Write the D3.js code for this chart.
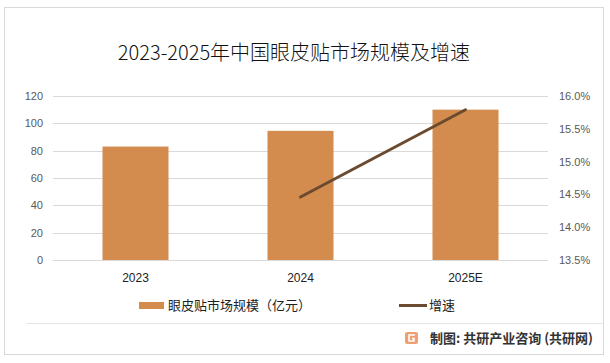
<!DOCTYPE html>
<html>
<head>
<meta charset="utf-8">
<script src="https://cdn.jsdelivr.net/npm/d3@7"></script>
<style>
  body { margin: 0; background: #fff; }
</style>
</head>
<body>
<div id="chart"></div>
<script>
// chart data
const categories = ["2023", "2024", "2025E"];
const marketSize = [83, 94.5, 110];          // 眼皮贴市场规模（亿元）
const growthCats = ["2024", "2025E"];
const growthRate = [14.46, 15.79];           // 增速 (%)
const leftTicks = [0, 20, 40, 60, 80, 100, 120];
const rightTicks = [13.5, 14.0, 14.5, 15.0, 15.5, 16.0];

const width = 610, height = 363;
const margin = { top: 96, right: 62, bottom: 103, left: 53 };
const innerWidth = width - margin.left - margin.right;
const innerHeight = height - margin.top - margin.bottom;
const cjk = "Noto Sans CJK SC, Noto Sans, sans-serif";
const latin = "Liberation Sans, Arial, sans-serif";

const svg = d3.select("#chart").append("svg")
    .attr("width", width)
    .attr("height", height)
    .attr("font-family", cjk);

// outer frame
svg.append("rect")
    .attr("x", 4.5).attr("y", 7.5)
    .attr("width", 599).attr("height", 347)
    .attr("fill", "#fff")
    .attr("stroke", "#d9d9d9");

const chart = svg.append("g")
    .attr("transform", "translate(" + margin.left + "," + margin.top + ")");

const x = d3.scaleBand()
    .domain(categories)
    .range([0, innerWidth])
    .paddingInner(0.6)
    .paddingOuter(0.3);

const y = d3.scaleLinear().domain([0, 120]).range([innerHeight, 0]);
const y2 = d3.scaleLinear().domain([13.5, 16.0]).range([innerHeight, 0]);

// gridlines
chart.selectAll(".grid")
    .data(leftTicks)
    .enter().append("line")
    .attr("x1", 0).attr("x2", innerWidth)
    .attr("y1", function (d) { return Math.round(y(d)) + 0.5; })
    .attr("y2", function (d) { return Math.round(y(d)) + 0.5; })
    .attr("stroke", "#d9d9d9")
    .attr("stroke-width", 1);

// bars
chart.selectAll(".bar")
    .data(marketSize)
    .enter().append("rect")
    .attr("x", function (d, i) { return x(categories[i]); })
    .attr("y", function (d) { return y(d); })
    .attr("width", x.bandwidth())
    .attr("height", function (d) { return innerHeight - y(d); })
    .attr("fill", "#d38c4e");

// growth line
const line = d3.line()
    .x(function (d, i) { return x(growthCats[i]) + x.bandwidth() / 2; })
    .y(function (d) { return y2(d); });

chart.append("path")
    .datum(growthRate)
    .attr("d", line)
    .attr("fill", "none")
    .attr("stroke", "#6b4a2f")
    .attr("stroke-width", 3)
    .attr("stroke-linecap", "round");

// left axis labels
chart.append("g")
    .attr("font-size", 11).attr("font-family", latin).attr("fill", "#595959")
    .attr("text-anchor", "end")
    .selectAll("text")
    .data(leftTicks)
    .enter().append("text")
    .attr("x", -10)
    .attr("y", function (d) { return y(d) + 4; })
    .text(function (d) { return d; });

// right axis labels
chart.append("g")
    .attr("font-size", 11).attr("font-family", latin).attr("fill", "#595959")
    .selectAll("text")
    .data(rightTicks)
    .enter().append("text")
    .attr("x", innerWidth + 11)
    .attr("y", function (d) { return y2(d) + 4; })
    .text(function (d) { return d.toFixed(1) + "%"; });

// x axis labels
chart.append("g")
    .attr("font-size", 12).attr("font-family", latin).attr("fill", "#222")
    .attr("text-anchor", "middle")
    .selectAll("text")
    .data(categories)
    .enter().append("text")
    .attr("x", function (d) { return x(d) + x.bandwidth() / 2; })
    .attr("y", innerHeight + 22)
    .text(function (d) { return d; });

// title
svg.append("text")
    .attr("x", 294).attr("y", 60)
    .attr("text-anchor", "middle")
    .attr("font-size", 20)
    .attr("font-weight", 300)
    .attr("fill", "#111")
    .text("2023-2025年中国眼皮贴市场规模及增速");

// legend
svg.append("rect")
    .attr("x", 139).attr("y", 302).attr("width", 25).attr("height", 7)
    .attr("fill", "#d38c4e");
svg.append("text")
    .attr("x", 168).attr("y", 310)
    .attr("font-size", 13).attr("fill", "#222")
    .text("眼皮贴市场规模（亿元）");
svg.append("line")
    .attr("x1", 399).attr("x2", 427).attr("y1", 305.5).attr("y2", 305.5)
    .attr("stroke", "#6b4a2f").attr("stroke-width", 3);
svg.append("text")
    .attr("x", 429).attr("y", 310)
    .attr("font-size", 13).attr("fill", "#222")
    .text("增速");

// separator and source
svg.append("line")
    .attr("x1", 26).attr("x2", 603).attr("y1", 323.5).attr("y2", 323.5)
    .attr("stroke", "#e6e6e6");

// logo mark
const logo = svg.append("g").attr("transform", "translate(405,332)");
logo.append("rect").attr("width", 13).attr("height", 12).attr("rx", 2).attr("fill", "#f0a070");
logo.append("path")
    .attr("d", "M10,3 H4 V9 H9 V6.5 H7")
    .attr("fill", "none").attr("stroke", "#fff").attr("stroke-width", 1.6);

svg.append("text")
    .attr("x", 593).attr("y", 343)
    .attr("text-anchor", "end")
    .attr("font-size", 13).attr("font-weight", "bold")
    .attr("fill", "#333")
    .text("制图: 共研产业咨询 (共研网)");
</script>
</body>
</html>
